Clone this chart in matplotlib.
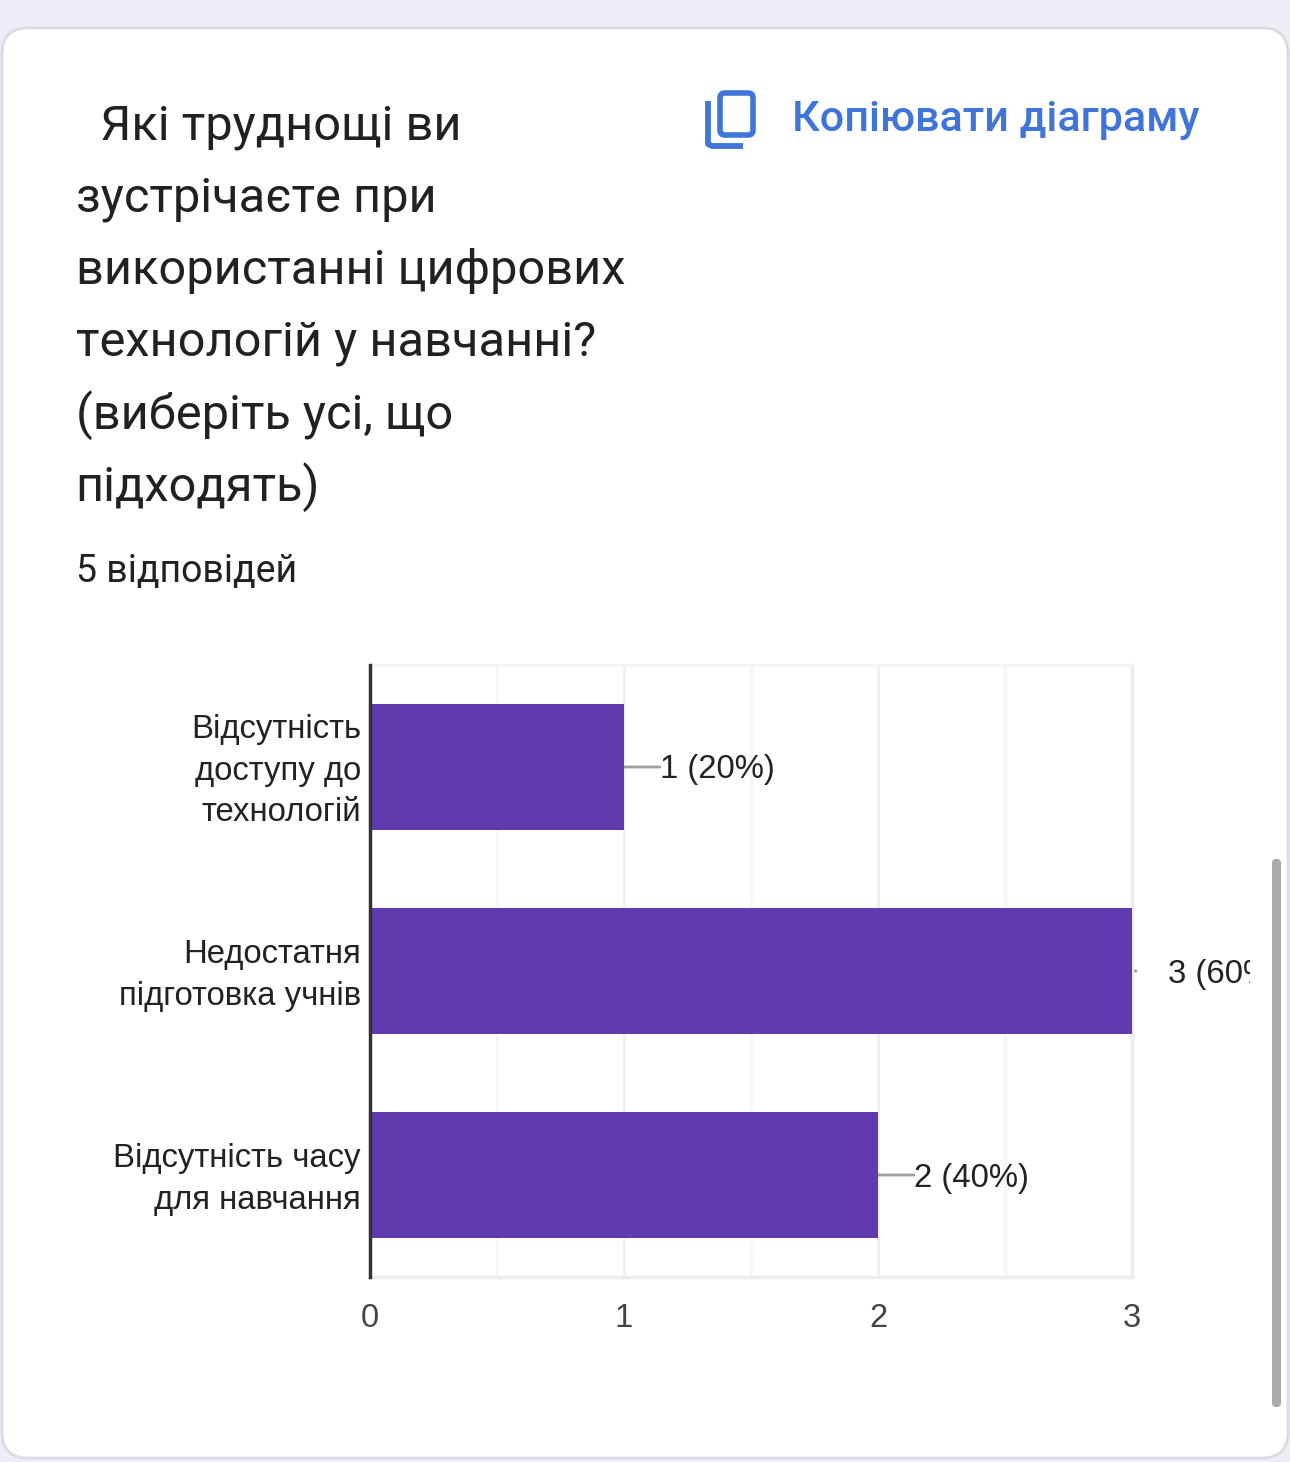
import matplotlib
matplotlib.use('Agg')
import matplotlib.pyplot as plt
from matplotlib.patches import FancyBboxPatch, Rectangle
from matplotlib.transforms import ScaledTranslation

categories = ['Відсутність\nдоступу до\nтехнологій', 'Недостатня\nпідготовка учнів', 'Відсутність часу\nдля навчання']
values = [1, 3, 2]
value_labels = ['1 (20%)', '3 (60%)', '2 (40%)']
xticks = [0, 1, 2, 3]
title_lines = ['  Які труднощі ви', 'зустрічаєте при', 'використанні цифрових',
               'технологій у навчанні?', '(виберіть усі, що', 'підходять)']
subtitle = '5 відповідей'
copy_label = 'Копіювати діаграму'

W, H = 1290, 1462
purple = '#613bad'
blue = '#3f74d9'

fig = plt.figure(figsize=(W / 100, H / 100), dpi=100, facecolor='#efebf7')

# page layer in pixel coordinates, y down
bg = fig.add_axes([0, 0, 1, 1])
bg.set_xlim(0, W)
bg.set_ylim(H, 0)
bg.axis('off')

bg.add_patch(FancyBboxPatch((2, 28), W - 4, H - 32, boxstyle='round,pad=0,rounding_size=26',
                            fc='white', ec='#dcdce0', lw=2))

for i, line in enumerate(title_lines):
    bg.text(75.5, 127 + i * 72, line, fontsize=35.1, family='Roboto', color='#202124', va='center')
bg.text(75.5, 572, subtitle, fontsize=27, family='Roboto', color='#202124', va='center')
bg.text(792, 119, copy_label, fontsize=31.1, family='Roboto', color=blue, va='center', weight='medium')

# copy icon
bg.add_patch(FancyBboxPatch((720, 93), 33, 42, boxstyle='round,pad=0,rounding_size=5',
                            fc='none', ec=blue, lw=4))
bg.plot([708, 708, 712, 743], [101, 144, 146, 146], color=blue, lw=4.2, solid_capstyle='butt')

# scrollbar
bg.add_patch(FancyBboxPatch((1272, 859), 9, 548, boxstyle='round,pad=0,rounding_size=4',
                            fc='#aaaaaa', ec='none'))

# chart
left, right, top, bottom = 370, 1132, 665, 1277
ax = fig.add_axes([left / W, 1 - bottom / H, (right - left) / W, (bottom - top) / H])
ax.set_facecolor('none')
ax.set_xlim(0, 3)
ax.set_ylim(2.5, -0.5)
ypos = list(range(len(categories)))

ax.set_xticks(xticks)
ax.set_xticks([0.5, 1.5, 2.5], minor=True)
ax.grid(axis='x', which='major', color='#f0f0f0', lw=2)
ax.grid(axis='x', which='minor', color='#f6f6f6', lw=2)
ax.set_axisbelow(True)
ax.tick_params(which='both', length=0)
ax.tick_params(axis='x', pad=18.5, labelsize=23.5, labelcolor='#444444')
ax.tick_params(axis='y', pad=6.5, labelsize=23.7, labelcolor='#222222')

ax.barh(ypos, values, height=0.617, color=purple, zorder=3)
ax.set_yticks(ypos)
ax.set_yticklabels(categories, ha='right', linespacing=1.44)

for lab in ax.get_xticklabels() + ax.get_yticklabels():
    lab.set_family('Liberation Sans')
# category labels sit a little above the bar centres
for lab in ax.get_yticklabels():
    lab.set_transform(lab.get_transform() + ScaledTranslation(0, 4.5 / 100, fig.dpi_scale_trans))

ax.spines['top'].set_color('#f4f4f4')
ax.spines['top'].set_linewidth(2)
ax.spines['right'].set_color('#ececec')
ax.spines['right'].set_linewidth(2.5)
ax.spines['bottom'].set_color('#ececec')
ax.spines['bottom'].set_linewidth(2.5)
ax.spines['left'].set_color('#333333')
ax.spines['left'].set_linewidth(2.5)
ax.spines['left'].set_zorder(5)

# value labels with leader lines, cut off at the chart frame like the original
clip = Rectangle((0, 0), 1250, H, transform=bg.transData, fc='none', ec='none')
bg.add_patch(clip)
for y, v, lab in zip(ypos, values, value_labels):
    # the longest bar only shows a small stub of its leader
    stub = 4 if v == max(values) else 36
    ax.annotate('', xy=(v, y), xytext=(stub, 0), textcoords='offset pixels',
                arrowprops=dict(arrowstyle='-', color='#9e9e9e', lw=2, shrinkA=0, shrinkB=0), zorder=2)
    t = ax.annotate(lab, xy=(v, y), xytext=(36, -3), textcoords='offset pixels', fontsize=23.7,
                    family='Liberation Sans', color='#222222', va='center', annotation_clip=False)
    t.set_clip_path(clip)
    t.set_clip_on(True)

fig.savefig('out.png', dpi=100, facecolor=fig.get_facecolor())
